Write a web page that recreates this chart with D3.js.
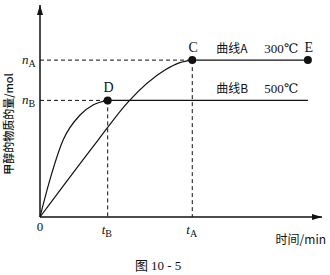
<!DOCTYPE html>
<html>
<head>
<meta charset="utf-8">
<script src="https://cdn.jsdelivr.net/npm/d3@7"></script>
<style>
    body { margin: 0; background: #fff; }
    text { fill: #111; }
    .serif { font-family: "Liberation Serif", "DejaVu Serif", serif; }
    .cjk { font-family: "Noto Sans CJK SC", sans-serif; }
</style>
</head>
<body>
<div id="chart"></div>
<script>
// key times and amounts (arbitrary units)
const tB = 24, tA = 54, tEnd = 95;
const nA = 74, nB = 55;

// curve A (300℃): slow rise up to C
const curveA_t = [0, 20.6, 31.2, 44.3, 49.6, 54];
const curveA_n = [0, 36.3, 54.2, 69.3, 72.8, 74];
// curve B (500℃): fast rise up to D
const curveB_t = [0, 3.5, 8.2, 14.2, 18.8, 24];
const curveB_n = [0, 17.5, 36.3, 48.1, 52.8, 55];

const pointNames = ["C", "D", "E"];
const seriesLabels = ["曲线A", "曲线B"];
const tempLabels = ["300℃", "500℃"];

const width = 330, height = 275;
const svg = d3.select("#chart").append("svg")
    .attr("width", width)
    .attr("height", height);

// x: time, y: amount of methanol
const x = d3.scaleLinear().domain([0, 100]).range([40, 322]);
const y = d3.scaleLinear().domain([0, 100]).range([217, 5]);

// arrow head marker
svg.append("defs").append("marker")
    .attr("id", "arrow")
    .attr("viewBox", "0 0 10 6")
    .attr("refX", 10).attr("refY", 3)
    .attr("markerWidth", 10).attr("markerHeight", 6)
    .attr("markerUnits", "userSpaceOnUse")
    .attr("orient", "auto")
    .append("path")
    .attr("d", "M0,0 L10,3 L0,6 Z")
    .attr("fill", "#111");

// axes
svg.append("line")
    .attr("x1", x(0)).attr("y1", y(0))
    .attr("x2", x(100)).attr("y2", y(0))
    .attr("stroke", "#111").attr("stroke-width", 1.5)
    .attr("marker-end", "url(#arrow)");
svg.append("line")
    .attr("x1", x(0)).attr("y1", y(0))
    .attr("x2", x(0)).attr("y2", y(100))
    .attr("stroke", "#111").attr("stroke-width", 1.5)
    .attr("marker-end", "url(#arrow)");

// dashed guides
const dash = "4,3";
const guides = [
    [0, nA, tA, nA],
    [0, nB, tB, nB],
    [tA, nA, tA, 0],
    [tB, nB, tB, 0]
];
svg.selectAll(".guide").data(guides).enter().append("line")
    .attr("class", "guide")
    .attr("x1", d => x(d[0])).attr("y1", d => y(d[1]))
    .attr("x2", d => x(d[2])).attr("y2", d => y(d[3]))
    .attr("stroke", "#111").attr("stroke-width", 1)
    .attr("stroke-dasharray", dash);

// curves
const line = d3.line()
    .x(d => x(d[0]))
    .y(d => y(d[1]))
    .curve(d3.curveMonotoneX);

const dataA = curveA_t.map((t, i) => [t, curveA_n[i]]);
const dataB = curveB_t.map((t, i) => [t, curveB_n[i]]);

[dataA, dataB].forEach(d => {
    svg.append("path")
        .datum(d)
        .attr("d", line)
        .attr("fill", "none")
        .attr("stroke", "#111")
        .attr("stroke-width", 1.2);
});

// plateaus
svg.append("line")
    .attr("x1", x(tA)).attr("y1", y(nA))
    .attr("x2", x(tEnd)).attr("y2", y(nA))
    .attr("stroke", "#111").attr("stroke-width", 1.2);
svg.append("line")
    .attr("x1", x(tB)).attr("y1", y(nB))
    .attr("x2", x(tEnd)).attr("y2", y(nB))
    .attr("stroke", "#111").attr("stroke-width", 1.2);

// points C, D, E
const points = [[tA, nA], [tB, nB], [tEnd, nA]];
svg.selectAll(".pt").data(points).enter().append("circle")
    .attr("class", "pt")
    .attr("cx", d => x(d[0])).attr("cy", d => y(d[1]))
    .attr("r", 4)
    .attr("fill", "#111");
svg.selectAll(".ptlabel").data(points).enter().append("text")
    .attr("class", "ptlabel serif")
    .attr("x", d => x(d[0]) + 1).attr("y", d => y(d[1]) - 8)
    .attr("text-anchor", "middle")
    .attr("font-size", 14)
    .text((d, i) => pointNames[i]);

// series labels
const seriesY = [nA, nB];
seriesLabels.forEach((s, i) => {
    svg.append("text")
        .attr("class", "cjk")
        .attr("x", x(62.5)).attr("y", y(seriesY[i]) - 7)
        .attr("font-size", 12)
        .text(s);
    svg.append("text")
        .attr("class", "serif")
        .attr("x", x(79.5)).attr("y", y(seriesY[i]) - 7)
        .attr("font-size", 13)
        .text(tempLabels[i]);
});

// y tick labels n_A, n_B
[["A", nA], ["B", nB]].forEach(d => {
    const t = svg.append("text")
        .attr("class", "serif")
        .attr("x", 22).attr("y", y(d[1]) + 4)
        .attr("font-size", 13);
    t.append("tspan").attr("font-style", "italic").text("n");
    t.append("tspan").attr("font-size", 10).attr("dy", 3).text(d[0]);
});

// x tick labels
svg.append("text")
    .attr("class", "serif")
    .attr("x", x(0)).attr("y", 231)
    .attr("text-anchor", "middle")
    .attr("font-size", 13)
    .text("0");
[["B", tB], ["A", tA]].forEach(d => {
    const t = svg.append("text")
        .attr("class", "serif")
        .attr("x", x(d[1]) - 6).attr("y", 234)
        .attr("font-size", 13);
    t.append("tspan").attr("font-style", "italic").text("t");
    t.append("tspan").attr("font-size", 10).attr("dy", 3).text(d[0]);
});

// axis titles
svg.append("text")
    .attr("class", "cjk")
    .attr("x", 326).attr("y", 244)
    .attr("text-anchor", "end")
    .attr("font-size", 12)
    .text("时间/min");
svg.append("text")
    .attr("class", "cjk")
    .attr("transform", "translate(13,124) rotate(-90)")
    .attr("text-anchor", "middle")
    .attr("font-size", 11)
    .attr("font-weight", 500)
    .text("甲醇的物质的量/mol");

// caption
const cap = svg.append("text")
    .attr("x", 135).attr("y", 270)
    .attr("font-size", 13);
cap.append("tspan").attr("class", "cjk").text("图 ");
cap.append("tspan").attr("class", "serif").text("10 - 5");
</script>
</body>
</html>
